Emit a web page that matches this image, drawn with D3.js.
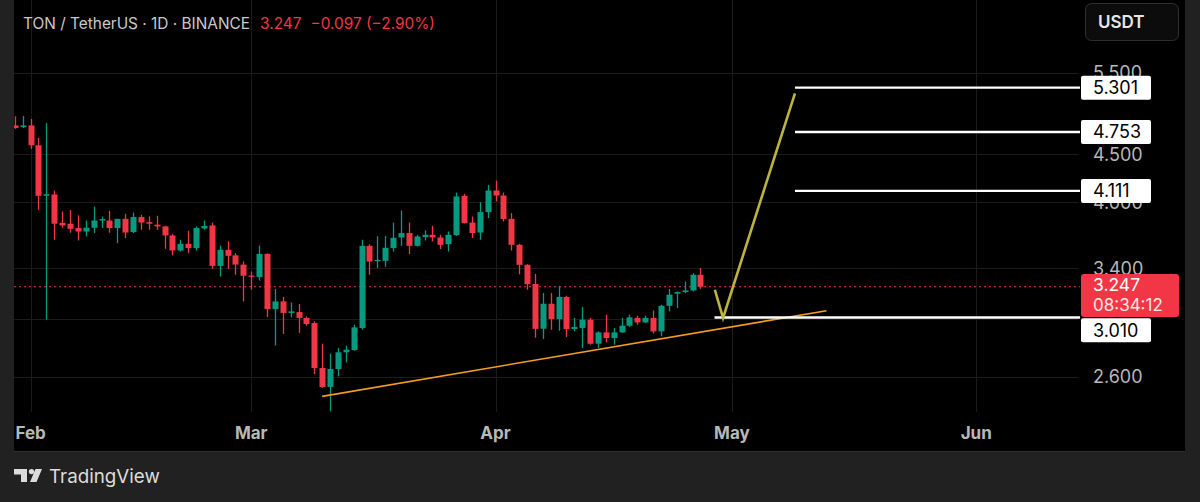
<!DOCTYPE html>
<html lang="en">
<head>
  <meta charset="UTF-8">
  <title>TON / TetherUS 1D</title>
  <script src="https://d3js.org/d3.v7.min.js"></script>
</head>
<style>
  body{
    margin:0;
    background:#212121;
    font-family: Inter, "Noto Sans", Arial, sans-serif;
  }
</style>
<body>
  <div id="chart"></div>
</body>
<script>
// daily candles, Jan 30 - Apr 27 2025
var dates = [
  "2025-01-30","2025-01-31",
  "2025-02-01","2025-02-02","2025-02-03","2025-02-04","2025-02-05","2025-02-06","2025-02-07",
  "2025-02-08","2025-02-09","2025-02-10","2025-02-11","2025-02-12","2025-02-13","2025-02-14",
  "2025-02-15","2025-02-16","2025-02-17","2025-02-18","2025-02-19","2025-02-20","2025-02-21",
  "2025-02-22","2025-02-23","2025-02-24","2025-02-25","2025-02-26","2025-02-27","2025-02-28",
  "2025-03-01","2025-03-02","2025-03-03","2025-03-04","2025-03-05","2025-03-06","2025-03-07",
  "2025-03-08","2025-03-09","2025-03-10","2025-03-11","2025-03-12","2025-03-13","2025-03-14",
  "2025-03-15","2025-03-16","2025-03-17","2025-03-18","2025-03-19","2025-03-20","2025-03-21",
  "2025-03-22","2025-03-23","2025-03-24","2025-03-25","2025-03-26","2025-03-27","2025-03-28",
  "2025-03-29","2025-03-30","2025-03-31",
  "2025-04-01","2025-04-02","2025-04-03","2025-04-04","2025-04-05","2025-04-06","2025-04-07",
  "2025-04-08","2025-04-09","2025-04-10","2025-04-11","2025-04-12","2025-04-13","2025-04-14",
  "2025-04-15","2025-04-16","2025-04-17","2025-04-18","2025-04-19","2025-04-20","2025-04-21",
  "2025-04-22","2025-04-23","2025-04-24","2025-04-25","2025-04-26","2025-04-27"
];
var opens = [
  4.83,4.81,
  4.83,4.60,4.062,4.075,3.80,3.792,3.752,
  3.720,3.755,3.822,3.822,3.752,3.838,3.715,
  3.855,3.807,3.783,3.767,3.684,3.550,3.609,
  3.571,3.748,3.776,3.418,3.556,3.508,3.429,
  3.338,3.325,3.521,3.073,3.132,3.044,3.051,
  3.007,2.970,2.658,2.537,2.652,2.763,2.778,
  2.933,3.591,3.458,3.461,3.571,3.666,3.706,
  3.591,3.669,3.690,3.666,3.606,3.687,4.062,
  3.803,3.711,3.902,
  4.115,4.065,3.838,3.600,3.427,3.269,2.928,
  3.114,2.999,3.166,2.926,2.933,2.994,2.822,
  2.902,2.862,2.902,2.950,3.007,2.974,3.007,
  2.909,3.098,3.192,3.205,3.218,3.344
];
var highs = [
  4.94,4.944,
  4.908,4.684,4.86,4.115,3.908,3.924,3.870,
  3.822,3.956,3.860,3.914,3.838,3.886,3.898,
  3.876,3.860,3.867,3.773,3.697,3.645,3.727,
  3.767,3.822,3.803,3.594,3.632,3.527,3.456,
  3.371,3.594,3.525,3.229,3.166,3.124,3.112,
  3.018,2.982,2.822,2.754,2.793,2.809,2.957,
  3.645,3.605,3.677,3.678,3.803,3.917,3.803,
  3.690,3.729,3.773,3.690,3.720,4.095,4.082,
  3.860,3.999,4.173,
  4.217,4.095,3.892,3.609,3.433,3.351,3.197,
  3.197,3.255,3.176,3.007,3.089,3.007,2.909,
  3.031,2.933,3.007,3.031,3.024,3.024,3.063,
  3.105,3.229,3.210,3.289,3.357,3.400
];
var lows = [
  4.79,4.80,
  4.559,3.924,2.994,3.645,3.755,3.709,3.639,
  3.675,3.706,3.752,3.709,3.615,3.660,3.706,
  3.736,3.736,3.736,3.565,3.509,3.541,3.527,
  3.550,3.736,3.393,3.330,3.393,3.344,3.132,
  3.223,3.297,3.014,2.810,2.891,3.011,2.898,
  2.950,2.619,2.531,2.39,2.604,2.695,2.774,
  2.921,3.344,3.400,3.410,3.541,3.591,3.518,
  3.585,3.639,3.630,3.562,3.541,3.681,3.795,
  3.660,3.645,3.845,
  4.005,3.813,3.550,3.348,3.223,2.864,2.855,
  2.921,2.914,2.869,2.909,2.793,2.815,2.793,
  2.831,2.815,2.898,2.941,2.957,2.970,2.893,
  2.874,3.056,3.081,3.197,3.210,3.230
];
var closes = [
  4.80,4.83,
  4.60,4.062,4.078,3.792,3.776,3.745,3.720,
  3.755,3.822,3.836,3.752,3.838,3.711,3.855,
  3.803,3.792,3.767,3.684,3.550,3.609,3.571,
  3.752,3.772,3.418,3.556,3.504,3.429,3.336,
  3.330,3.521,3.073,3.132,3.044,3.056,3.007,
  2.962,2.658,2.537,2.652,2.763,2.781,2.938,
  3.591,3.455,3.469,3.574,3.663,3.706,3.591,
  3.675,3.690,3.666,3.600,3.690,4.055,3.798,
  3.706,3.902,4.115,
  4.065,3.836,3.600,3.427,3.267,2.927,3.114,
  2.999,3.166,2.926,2.941,2.994,2.822,2.902,
  2.862,2.902,2.950,3.011,2.974,3.007,2.909,
  3.098,3.184,3.205,3.218,3.344,3.247
];

// axis
var priceTicks = [2.6, 3.0, 3.4, 4.0, 4.5, 5.5];
var hiddenTickLabels = [3.0]; // covered by the price tags in the original
var monthTicks = ["2025-02-01","2025-03-01","2025-04-01","2025-05-01","2025-06-01"];

// drawings on the chart
var levelPrices = [5.301, 4.753, 4.111, 3.010];
var levelStarts = ["2025-05-09T00:00","2025-05-09T00:00","2025-05-09T00:00","2025-04-28T19:00"];
var trendDates = ["2025-03-10T00:00","2025-05-13T00:00"];
var trendPrices = [2.479, 3.061];
var arrowDates = ["2025-04-28T20:00","2025-04-29T21:00","2025-05-09T00:00"];
var arrowPrices = [3.223, 3.007, 5.228];

var lastPrice = 3.247;
var countdown = "08:34:12";

var W = 1200, H = 502;
var paneLeft = 14, paneRight = 1185, paneBottom = 451;
var plotRight = 1080, plotBottom = 412;
var green = "#089981", red = "#f23645";

var parseDay = d3.utcParse("%Y-%m-%d");
var parseTime = d3.utcParse("%Y-%m-%dT%H:%M");

var x = d3.scaleUtc()
  .domain([parseDay("2025-02-01"), parseDay("2025-06-01")])
  .range([30.6, 976.2]);
var y = d3.scaleLog()
  .domain([2.6, 5.5])
  .range([377, 72.7]);

var svg = d3.select("#chart").append("svg")
  .attr("width", W)
  .attr("height", H)
  .style("display", "block");

// frame
svg.append("rect").attr("width", W).attr("height", H).attr("fill", "#212121");
svg.append("rect")
  .attr("x", paneLeft).attr("y", 0)
  .attr("width", paneRight - paneLeft).attr("height", paneBottom)
  .attr("fill", "#000");
svg.append("line")
  .attr("x1", paneLeft).attr("x2", paneRight)
  .attr("y1", paneBottom + 0.5).attr("y2", paneBottom + 0.5)
  .attr("stroke", "#2e2e2e");

svg.append("clipPath").attr("id", "plotclip")
  .append("rect")
  .attr("x", paneLeft).attr("y", 0)
  .attr("width", plotRight - paneLeft).attr("height", plotBottom);

// grid
var grid = svg.append("g");
grid.selectAll(".hgrid")
  .data(priceTicks)
  .enter().append("line")
  .attr("x1", paneLeft).attr("x2", plotRight - 2)
  .attr("y1", function(d){ return Math.round(y(d)) + 0.5; })
  .attr("y2", function(d){ return Math.round(y(d)) + 0.5; })
  .attr("stroke", "#1b1b1b");
grid.selectAll(".vgrid")
  .data(monthTicks)
  .enter().append("line")
  .attr("x1", function(d){ return Math.round(x(parseDay(d))) + 0.5; })
  .attr("x2", function(d){ return Math.round(x(parseDay(d))) + 0.5; })
  .attr("y1", 0).attr("y2", plotBottom)
  .attr("stroke", "#1b1b1b");

// header
var header = svg.append("text")
  .attr("x", 23).attr("y", 28.5)
  .attr("font-size", "15.4px");
header.append("tspan").attr("fill", "#c9c9c9").text("TON / TetherUS \u00b7 1D \u00b7 BINANCE");
header.append("tspan").attr("fill", red).attr("dx", 10).text("3.247");
header.append("tspan").attr("fill", red).attr("dx", 9).text("\u22120.097 (\u22122.90%)");

// current price dotted line
svg.append("line")
  .attr("x1", paneLeft).attr("x2", plotRight)
  .attr("y1", y(lastPrice)).attr("y2", y(lastPrice))
  .attr("stroke", red).attr("stroke-width", 1.2)
  .attr("stroke-dasharray", "2,3");

// candles
var plot = svg.append("g").attr("clip-path", "url(#plotclip)");
var bodyW = 6;
var candle = plot.selectAll(".candle")
  .data(d3.range(dates.length))
  .enter().append("g");
candle.append("line")
  .attr("x1", function(i){ return Math.round(x(parseDay(dates[i]))) + 0.5; })
  .attr("x2", function(i){ return Math.round(x(parseDay(dates[i]))) + 0.5; })
  .attr("y1", function(i){ return y(highs[i]); })
  .attr("y2", function(i){ return y(lows[i]); })
  .attr("stroke", function(i){ return closes[i] >= opens[i] ? green : red; })
  .attr("stroke-width", 1.3);
candle.append("rect")
  .attr("x", function(i){ return Math.round(x(parseDay(dates[i]))) + 0.5 - bodyW / 2; })
  .attr("y", function(i){ return y(Math.max(opens[i], closes[i])); })
  .attr("width", bodyW)
  .attr("height", function(i){ return Math.max(1.3, Math.abs(y(opens[i]) - y(closes[i]))); })
  .attr("fill", function(i){ return closes[i] >= opens[i] ? green : red; });

// trend line
plot.append("line")
  .attr("x1", x(parseTime(trendDates[0]))).attr("y1", y(trendPrices[0]))
  .attr("x2", x(parseTime(trendDates[1]))).attr("y2", y(trendPrices[1]))
  .attr("stroke", "#f59d1f").attr("stroke-width", 1.6);

// target levels
svg.selectAll(".level")
  .data(levelPrices)
  .enter().append("line")
  .attr("x1", function(d, i){ return x(parseTime(levelStarts[i])); })
  .attr("x2", plotRight)
  .attr("y1", function(d){ return y(d); })
  .attr("y2", function(d){ return y(d); })
  .attr("stroke", "#fff").attr("stroke-width", 2.4);

// projected path
var arrowLine = d3.line()
  .x(function(d){ return x(parseTime(d)); })
  .y(function(d, i){ return y(arrowPrices[i]); });
svg.append("path")
  .attr("d", arrowLine(arrowDates))
  .attr("fill", "none")
  .attr("stroke", "#bdb33f").attr("stroke-width", 2.6)
  .attr("stroke-linejoin", "miter");

// price scale labels
svg.selectAll(".ptick")
  .data(priceTicks.filter(function(d){ return hiddenTickLabels.indexOf(d) < 0; }))
  .enter().append("text")
  .attr("x", 1093)
  .attr("y", function(d){ return y(d); })
  .attr("dy", "0.36em")
  .attr("font-size", "18px")
  .attr("fill", "#b8b8b8")
  .text(function(d){ return d3.format(".3f")(d); });

// time labels
svg.selectAll(".ttick")
  .data(monthTicks)
  .enter().append("text")
  .attr("x", function(d){ return x(parseDay(d)); })
  .attr("y", 433)
  .attr("dy", "0.36em")
  .attr("text-anchor", "middle")
  .attr("font-size", "17px")
  .attr("font-weight", "bold")
  .attr("fill", "#b8b8b8")
  .text(function(d){ return d3.utcFormat("%b")(parseDay(d)); });

// level labels (3.010 is pushed below the live price tag)
var labelY = [y(5.301), y(4.753), y(4.111), 330.3];
svg.selectAll(".lbox")
  .data(levelPrices)
  .enter().append("rect")
  .attr("x", 1081).attr("width", 70)
  .attr("y", function(d, i){ return labelY[i] - 12; })
  .attr("height", 24).attr("rx", 2)
  .attr("fill", "#fff");
svg.selectAll(".ltext")
  .data(levelPrices)
  .enter().append("text")
  .attr("x", 1093)
  .attr("y", function(d, i){ return labelY[i]; })
  .attr("dy", "0.36em")
  .attr("font-size", "18px")
  .attr("fill", "#000")
  .text(function(d){ return d3.format(".3f")(d); });

// live price tag
svg.append("rect")
  .attr("x", 1081).attr("y", 274)
  .attr("width", 98).attr("height", 43).attr("rx", 3)
  .attr("fill", red);
svg.append("text")
  .attr("x", 1093).attr("y", 285).attr("dy", "0.36em")
  .attr("font-size", "17.5px").attr("fill", "#fff")
  .text(d3.format(".3f")(lastPrice));
svg.append("text")
  .attr("x", 1093).attr("y", 305).attr("dy", "0.36em")
  .attr("font-size", "17px").attr("fill", "#fde6e8")
  .text(countdown);

// currency button
svg.append("rect")
  .attr("x", 1085.5).attr("y", 3.5)
  .attr("width", 93).attr("height", 37).attr("rx", 6)
  .attr("fill", "#0c0c0c").attr("stroke", "#2f2f2f");
svg.append("text")
  .attr("x", 1098).attr("y", 22).attr("dy", "0.36em")
  .attr("font-size", "17px").attr("font-weight", 600).attr("fill", "#e6e6e6")
  .text("USDT");

// footer logo
var logo = svg.append("g").attr("fill", "#dcdcdc");
logo.append("path").attr("d", "M14,469 H27 V482 H21 V474.5 H14 Z");
logo.append("circle").attr("cx", 31.5).attr("cy", 471.6).attr("r", 2.7);
logo.append("path").attr("d", "M35.5,469 H42 L36.5,482 H30 Z");
svg.append("text")
  .attr("x", 49).attr("y", 476).attr("dy", "0.36em")
  .attr("font-size", "18.8px").attr("fill", "#dcdcdc")
  .text("TradingView");
</script>
</html>
